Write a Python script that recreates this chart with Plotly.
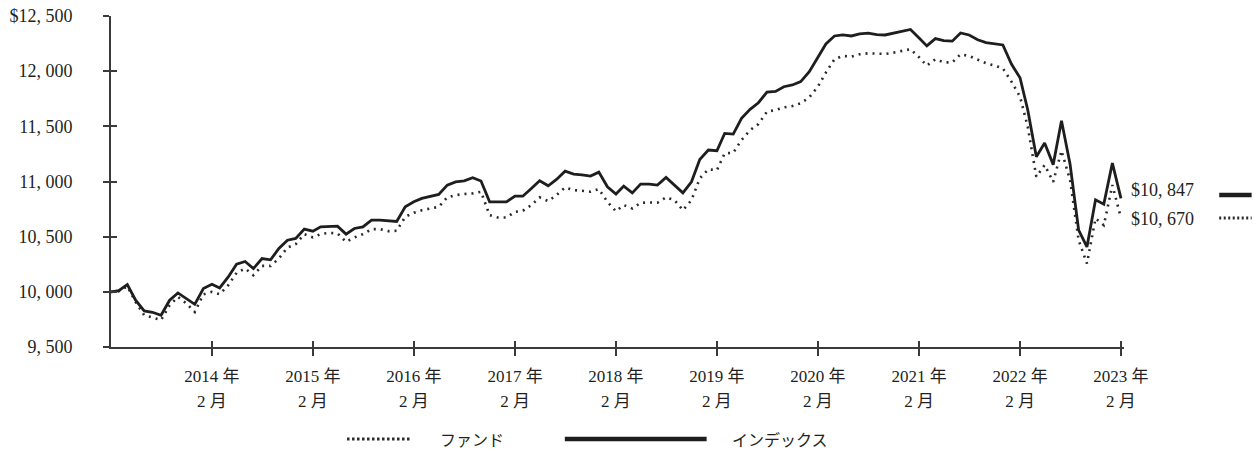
import plotly.graph_objects as go
import pandas as pd

# ---------------- data ----------------
start_month = "2013-02-01"
series_names = ["ファンド", "インデックス"]

index_values = [
    10000, 10010, 10065, 9924, 9827, 9815, 9788, 9924, 9990, 9939,
    9887, 10030, 10069, 10035, 10135, 10250, 10275, 10211, 10302, 10290,
    10393, 10468, 10484, 10568, 10550, 10589, 10595, 10595, 10523, 10574,
    10589, 10650, 10650, 10641, 10638, 10770, 10816, 10847, 10867, 10883,
    10967, 10997, 11006, 11034, 11004, 10816, 10816, 10816, 10867, 10867,
    10937, 11006, 10961, 11019, 11094, 11067, 11061, 11049, 11085, 10952,
    10886, 10958, 10897, 10976, 10976, 10967, 11037, 10967, 10897, 10997,
    11200, 11285, 11279, 11436, 11430, 11573, 11654, 11714, 11811, 11817,
    11859, 11875, 11905, 11996, 12132, 12247, 12319, 12328, 12319, 12337,
    12344, 12331, 12328, 12344, 12365, 12378, 12300, 12229, 12295, 12277,
    12272, 12346, 12328, 12285, 12259, 12250, 12238, 12065, 11940, 11648,
    11225, 11348, 11153, 11550, 11156, 10559, 10407, 10834, 10795, 11167,
    10847,
]

fund_values = [
    10000, 10005, 10050, 9908, 9788, 9767, 9745, 9878, 9954, 9894,
    9818, 9978, 9999, 9978, 10060, 10172, 10211, 10151, 10235, 10235,
    10302, 10402, 10432, 10523, 10493, 10523, 10535, 10529, 10453, 10493,
    10523, 10568, 10568, 10550, 10553, 10680, 10716, 10740, 10756, 10770,
    10856, 10877, 10886, 10892, 10907, 10695, 10674, 10674, 10725, 10734,
    10786, 10856, 10822, 10877, 10946, 10922, 10916, 10907, 10931, 10816,
    10730, 10786, 10756, 10807, 10810, 10807, 10856, 10831, 10740, 10831,
    11028, 11110, 11103, 11255, 11260, 11376, 11466, 11521, 11633, 11648,
    11672, 11684, 11709, 11763, 11859, 11987, 12108, 12138, 12132, 12153,
    12162, 12156, 12156, 12168, 12183, 12199, 12126, 12050, 12108, 12080,
    12080, 12153, 12138, 12102, 12072, 12050, 12026, 11905, 11769, 11496,
    11043, 11149, 10997, 11279, 11013, 10468, 10257, 10665, 10604, 10967,
    10670,
]

tick_years = [2014, 2015, 2016, 2017, 2018, 2019, 2020, 2021, 2022, 2023]
tick_month = 2
y_ticks = [9500, 10000, 10500, 11000, 11500, 12000, 12500]

# ---------------- helpers ----------------
dates = pd.date_range(start_month, periods=len(index_values), freq="MS")
tick_dates = [pd.Timestamp(year=y, month=tick_month, day=1) for y in tick_years]


def fmt(v):
    return f"{v:,}".replace(",", ", ")


y_text = [fmt(v) for v in y_ticks]
y_text[-1] = "$" + y_text[-1]

FONT = "Liberation Serif, Noto Sans CJK JP, serif"
JP_FONT = "Noto Sans CJK JP, sans-serif"
TXT = "#231f20"
AX = "#3a3a3a"

x_range = [dates[0], dates[-1] + pd.Timedelta(days=11)]
y_range = [y_ticks[0], y_ticks[-1]]

fig = go.Figure()
fig.add_trace(go.Scatter(
    x=dates, y=fund_values, mode="lines", name=series_names[0],
    line=dict(color="#2a2a2a", width=2.6, dash="2px,5px"),
))
fig.add_trace(go.Scatter(
    x=dates, y=index_values, mode="lines", name=series_names[1],
    line=dict(color="#1e1e1e", width=2.8),
))
# invisible carrier trace so the overlay axes (crossing ticks, 2nd label row) are drawn
fig.add_trace(go.Scatter(
    x=dates, y=index_values, mode="lines", xaxis="x2", yaxis="y2",
    line=dict(width=0, color="rgba(0,0,0,0)"), hoverinfo="skip", showlegend=False,
))

# end-value labels
fig.add_annotation(x=dates[-1], y=index_values[-1], xref="x", yref="y",
                   text="$" + fmt(index_values[-1]), showarrow=False,
                   xanchor="left", yanchor="middle", xshift=8, yshift=8,
                   font=dict(family=FONT, size=18, color=TXT))
fig.add_annotation(x=dates[-1], y=fund_values[-1], xref="x", yref="y",
                   text="$" + fmt(fund_values[-1]), showarrow=False,
                   xanchor="left", yanchor="middle", xshift=8, yshift=-1,
                   font=dict(family=FONT, size=18, color=TXT))

# line keys right of end labels
fig.add_shape(type="line", xref="paper", yref="paper", x0=1.094, x1=1.126,
              y0=0.459, y1=0.459, line=dict(color="#1e1e1e", width=4.5))
fig.add_shape(type="line", xref="paper", yref="paper", x0=1.094, x1=1.126,
              y0=0.390, y1=0.390, line=dict(color="#2a2a2a", width=3, dash="2px,2.5px"))

# bottom legend (drawn)
fig.add_shape(type="line", xref="paper", yref="paper", x0=0.233, x1=0.297,
              y0=-0.278, y1=-0.278, line=dict(color="#2a2a2a", width=3.2, dash="2.5px,2.5px"))
fig.add_annotation(x=0.323, y=-0.278, xref="paper", yref="paper", text=series_names[0],
                   showarrow=False, xanchor="left", yanchor="middle",
                   font=dict(family=JP_FONT, size=16, color=TXT))
fig.add_shape(type="line", xref="paper", yref="paper", x0=0.448, x1=0.588,
              y0=-0.278, y1=-0.278, line=dict(color="#1e1e1e", width=4.5))
fig.add_annotation(x=0.611, y=-0.278, xref="paper", yref="paper", text=series_names[1],
                   showarrow=False, xanchor="left", yanchor="middle",
                   font=dict(family=JP_FONT, size=16, color=TXT))

fig.update_layout(
    width=1260, height=453,
    margin=dict(l=111, r=136, t=16, b=106, autoexpand=False),
    paper_bgcolor="white", plot_bgcolor="white",
    showlegend=False,
    font=dict(family=FONT, size=17, color=TXT),
    xaxis=dict(
        type="date", range=x_range, automargin=False,
        tickmode="array", tickvals=tick_dates,
        ticktext=[f"{y} 年" for y in tick_years],
        ticks="outside", ticklen=7, tickwidth=1.5, tickcolor=AX,
        showline=True, linecolor=AX, linewidth=1.8,
        showgrid=False, zeroline=False,
        ticklabelstandoff=6, ticklabeloverflow="allow",
        tickfont=dict(family=FONT, size=17, color=TXT),
    ),
    xaxis2=dict(
        type="date", range=x_range, overlaying="x", side="bottom", automargin=False,
        tickmode="array", tickvals=tick_dates,
        ticktext=[f"{tick_month} 月" for _ in tick_years],
        ticks="inside", ticklen=6, tickwidth=1.5, tickcolor=AX,
        showline=False, showgrid=False, zeroline=False,
        ticklabelstandoff=42, ticklabeloverflow="allow",
        tickfont=dict(family=FONT, size=17, color=TXT),
    ),
    yaxis=dict(
        range=y_range, automargin=False,
        tickmode="array", tickvals=y_ticks, ticktext=y_text,
        ticks="outside", ticklen=6, tickwidth=1.5, tickcolor=AX,
        showline=True, linecolor=AX, linewidth=1.8,
        showgrid=False, zeroline=False,
        ticklabelstandoff=27, ticklabeloverflow="allow",
        tickfont=dict(family=FONT, size=18, color=TXT),
    ),
    yaxis2=dict(
        range=y_range, overlaying="y", side="left", automargin=False,
        tickmode="array", tickvals=y_ticks, ticktext=["" for _ in y_ticks],
        ticks="inside", ticklen=6, tickwidth=1.5, tickcolor=AX,
        showline=False, showgrid=False, zeroline=False,
    ),
)

# remove the default 8px page margin so the figure sits at the window's top-left
fig.write_html("out.html", config={"displayModeBar": False},
               post_script="document.body.style.margin='0';")
